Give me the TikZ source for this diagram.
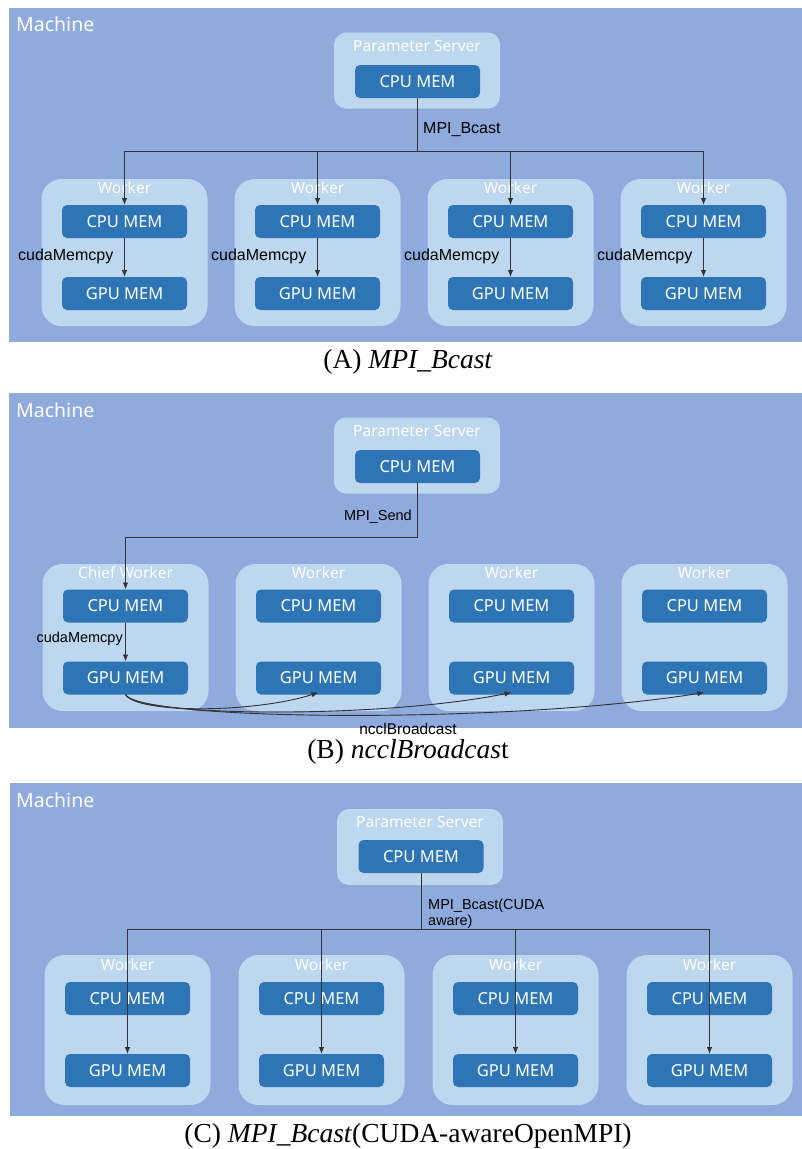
\documentclass[tikz,border=0pt]{standalone}
\usepackage{fontspec}
\setmainfont{Liberation Serif}
\newfontfamily\boxfont{Noto Sans}
\newfontfamily\lblfont{Liberation Sans}
\usetikzlibrary{arrows.meta}
\definecolor{machinebg}{HTML}{8FAADC}
\definecolor{workerbg}{HTML}{BDD7EE}
\definecolor{membox}{HTML}{2E75B6}
\definecolor{wirecol}{HTML}{333333}
\tikzset{
 workerbox/.style={fill=workerbg, rounded corners=20pt, minimum width=166pt, minimum height=147pt, inner sep=0, outer sep=0},
 psbox/.style={fill=workerbg, rounded corners=12pt, minimum width=166pt, minimum height=76pt, inner sep=0, outer sep=0},
 mem/.style={fill=membox, rounded corners=5pt, minimum width=125pt, minimum height=33pt, text=white, font=\boxfont\fontsize{16.5}{18}\selectfont, inner sep=0, outer sep=0},
 boxtitle/.style={text=white, font=\boxfont\fontsize{15.5}{18}\selectfont, inner sep=0},
 machinetitle/.style={text=white, font=\boxfont\fontsize{19.5}{22}\selectfont, anchor=west, inner sep=0},
 lbl/.style={font=\lblfont\fontsize{16}{18}\selectfont, inner sep=0, text=black},
 lblsmall/.style={font=\lblfont\fontsize{14.5}{16}\selectfont, inner sep=0, text=black},
 wire/.style={draw=wirecol, line width=0.9pt},
 arr/.style={wire, -{Latex[length=7pt,width=5.5pt]}},
 captionstyle/.style={font=\fontsize{27.5}{30}\selectfont, inner sep=0},
}
\begin{document}
\begin{tikzpicture}[x=1pt,y=-1pt]
\useasboundingbox (0,0) rectangle (802,1149);
% ================= Panel A =================
\fill[machinebg] (9,8) rectangle (802,342);
\node[machinetitle] (amach) at (16,24) {Machine};
\node[psbox] (aps) at (417,70.5) {};
\node[boxtitle] (apst) at (417,46) {Parameter Server};
\node[mem] (apsc) at (417.5,81.5) {CPU MEM};
\coordinate (abus) at (417.5,151);
\draw[wire] (apsc.south) -- (abus);
\node[lbl, anchor=west] (albl) at (423,130) {MPI\_Bcast};
\foreach \i in {1,2,3,4}{
  \pgfmathsetmacro{\cx}{124.5+193*(\i-1)}
  \node[workerbox] (aw\i) at (\cx,252.5) {};
  \node[boxtitle] (awt\i) at (\cx,188) {Worker};
  \node[mem] (ac\i) at (\cx,221.5) {CPU MEM};
  \node[mem] (ag\i) at (\cx,293.5) {GPU MEM};
}
\draw[wire] (ac1.north |- abus) -- (ac4.north |- abus);
\foreach \i in {1,2,3,4}{
  \draw[arr] (ac\i.north |- abus) -- (ac\i.north);
  \draw[arr] (ac\i.south) -- (ag\i.north);
  \node[lbl, anchor=east] (acm\i) at ([xshift=-11pt,yshift=-18pt]ac\i.south) {cudaMemcpy};
}
\node[captionstyle] (acap) at (408,362) {(A) \textit{MPI\_Bcast}};
% ================= Panel B =================
\fill[machinebg] (9,393) rectangle (802,728);
\node[machinetitle] (bmach) at (16,410) {Machine};
\node[psbox] (bps) at (417,455.5) {};
\node[boxtitle] (bpst) at (417,431) {Parameter Server};
\node[mem] (bpsc) at (417.5,466.5) {CPU MEM};
\foreach \i in {1,2,3,4}{
  \pgfmathsetmacro{\cx}{125.5+193*(\i-1)}
  \node[workerbox] (bw\i) at (\cx,637.5) {};
  \node[mem] (bc\i) at (\cx,606) {CPU MEM};
  \node[mem] (bg\i) at (\cx,678) {GPU MEM};
}
\node[boxtitle] (bwt1) at (bw1.center |- 0,573) {Chief Worker};
\foreach \i in {2,3,4}{\node[boxtitle] (bwt\i) at (bw\i.center |- 0,573) {Worker};}
\coordinate (bk1) at (417.5,537);
\coordinate (bk2) at (bc1.north |- bk1);
\draw[arr] (bpsc.south) -- (bk1) -- (bk2) -- (bc1.north);
\node[lblsmall, anchor=east] (blbl) at (412,517) {MPI\_Send};
\draw[arr] (bc1.south) -- (bg1.north);
\node[lblsmall, anchor=east] (bcm) at (123,639) {cudaMemcpy};
\draw[arr] (bg1.south) .. controls (137,714) and (255,713) .. ([yshift=2pt]bg2.south);
\draw[arr] (bg1.south) .. controls (137,717) and (380,719) .. ([yshift=2pt]bg3.south);
\draw[arr] (bg1.south) .. controls (137,720) and (500,725) .. ([yshift=2pt]bg4.south);
\node[lbl, font=\lblfont\fontsize{15.5}{18}\selectfont] (bnccl) at (408,729) {ncclBroadcast};
\node[captionstyle] (bcap) at (408,752) {(B) \textit{ncclBroadcas}t};
% ================= Panel C =================
\fill[machinebg] (10,783) rectangle (802,1116);
\node[machinetitle] (cmach) at (16,800) {Machine};
\node[psbox] (cps) at (420,847) {};
\node[boxtitle] (cpst) at (420,822) {Parameter Server};
\node[mem] (cpsc) at (421,856.5) {CPU MEM};
\coordinate (cbus) at (421,929);
\draw[wire] (cpsc.south) -- (cbus);
\node[lblsmall, anchor=north west, align=left] (clbl) at (428,899) {MPI\_Bcast(CUDA\\aware)};
\foreach \i in {1,2,3,4}{
  \pgfmathsetmacro{\cx}{127.5+194*(\i-1)}
  \node[workerbox, minimum height=150pt] (cw\i) at (\cx,1030) {};
  \node[boxtitle] (cwt\i) at (\cx,965) {Worker};
  \node[mem] (cc\i) at (\cx,998.5) {CPU MEM};
  \node[mem] (cg\i) at (\cx,1070.5) {GPU MEM};
}
\draw[wire] (cg1.north |- cbus) -- (cg4.north |- cbus);
\foreach \i in {1,2,3,4}{
  \draw[arr] (cg\i.north |- cbus) -- (cg\i.north);
}
\node[captionstyle] (ccap) at (408,1136) {(C) \textit{MPI\_Bcast}(CUDA-awareOpenMPI)};
\end{tikzpicture}
\end{document}
